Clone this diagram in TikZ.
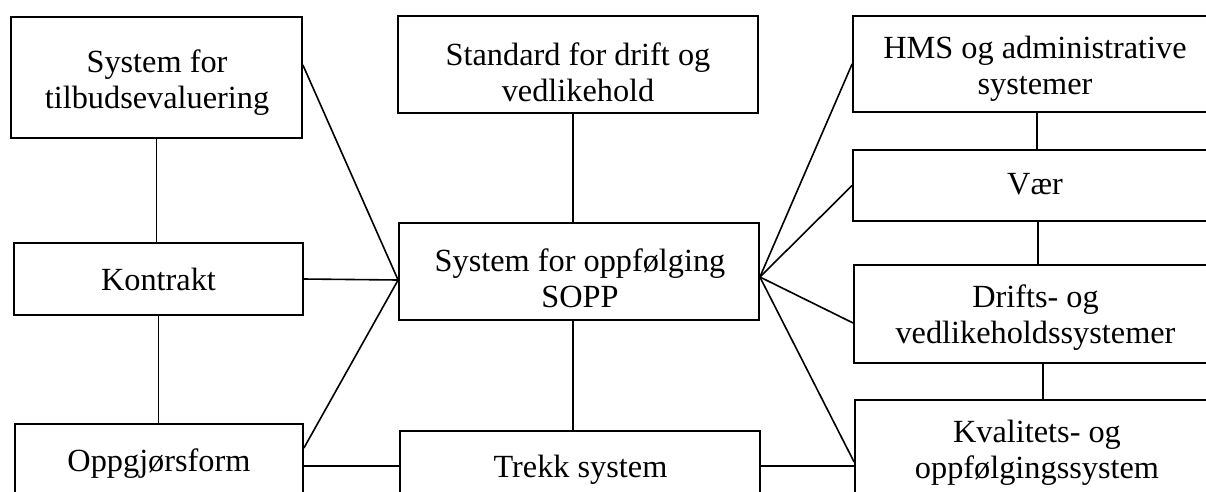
\documentclass[tikz,border=0pt]{standalone}
\usepackage{fontspec}
\setmainfont{Liberation Serif}
\usetikzlibrary{calc}
\tikzset{
  box/.style={draw, line width=1.8pt, inner sep=0pt},
  txt/.style={inner sep=0pt, align=center,
    font=\fontsize{32.3}{36}\selectfont},
  conn/.style={line width=1.6pt}
}
\begin{document}
\begin{tikzpicture}[x=1pt,y=-1pt]
\useasboundingbox (0,0) rectangle (1206,491);
\clip (0,0) rectangle (1206,491);
% left column frames
\node[box, minimum width=291pt, minimum height=121pt] (b1) at (156.5,77.5) {};
\node[box, minimum width=289pt, minimum height=72pt] (kon) at (158.5,279) {};
\node[box, minimum width=288pt, minimum height=84pt] (opp) at (159,466) {};
% centre column frames
\node[box, minimum width=360pt, minimum height=97pt] (std) at (578,64.5) {};
\node[box, minimum width=360pt, minimum height=97pt] (sopp) at (579,271.5) {};
\node[box, minimum width=360pt, minimum height=70pt] (trk) at (580,466) {};
% right column frames
\node[box, minimum width=364pt, minimum height=96pt] (hms) at (1035,64) {};
\node[box, minimum width=364pt, minimum height=71pt] (vaer) at (1035,185.5) {};
\node[box, minimum width=363pt, minimum height=98pt] (drift) at (1035.5,314) {};
\node[box, minimum width=362pt, minimum height=100pt] (kval) at (1036,450) {};
% texts
\node[txt] (b1t) at (157,82.5) {System for\\tilbudsevaluering};
\node[txt] (kont) at (158.5,279) {Kontrakt};
\node[txt] (oppt) at (159,464) {Oppgjørsform};
\node[txt] (stdt) at (578,72.5) {Standard for drift og\\vedlikehold};
\node[txt] (soppt) at (580,278.5) {System for oppfølging\\SOPP};
\node[txt] (trkt) at (580.5,470) {Trekk system};
\node[txt] (hmst) at (1035,69) {HMS og administrative\\systemer};
\node[txt] (vaert) at (1035,184.5) {Vær};
\node[txt] (driftt) at (1035.5,318) {Drifts- og\\vedlikeholdssystemer};
\node[txt] (kvalt) at (1037,453) {Kvalitets- og\\oppfølgingssystem};
% fan points
\coordinate (sl) at ([yshift=-8.5pt]sopp.west);
\coordinate (sr) at ([yshift=-5.5pt]sopp.east);
% left connectors
\draw[conn] (b1.south) -- (b1.south |- kon.north);
\draw[conn] (kon.south) -- (kon.south |- opp.north);
\draw[conn] ([yshift=12.5pt]b1.east) -- (sl);
\draw[conn] (kon.east) -- (sl);
\draw[conn] ([yshift=18pt]opp.east) -- (sl);
\draw[conn] (opp.east) -- (opp.east -| trk.west);
% centre connectors
\draw[conn] ([xshift=-5pt]std.south) -- ([xshift=-5pt]std.south |- sopp.north);
\draw[conn] ([xshift=-6pt]sopp.south) -- ([xshift=-6pt]sopp.south |- trk.north);
\draw[conn] (trk.east) -- (trk.east -| kval.west);
% right connectors
\draw[conn] (sr) -- (hms.west);
\draw[conn] (sr) -- (vaer.west);
\draw[conn] (sr) -- ([yshift=-9pt]drift.west);
\draw[conn] (sr) -- ([yshift=-12pt]kval.west);
\draw[conn] ([xshift=2pt]hms.south) -- ([xshift=2pt]hms.south |- vaer.north);
\draw[conn] ([xshift=3pt]vaer.south) -- ([xshift=3pt]vaer.south |- drift.north);
\draw[conn] ([xshift=7.5pt]drift.south) -- ([xshift=7.5pt]drift.south |- kval.north);
\end{tikzpicture}
\end{document}
